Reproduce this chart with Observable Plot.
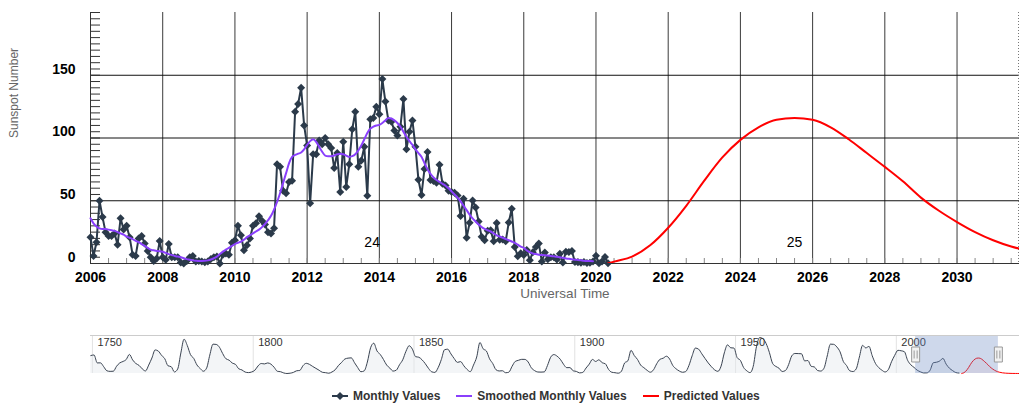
<!DOCTYPE html>
<html>
<head>
<meta charset="utf-8">
<script src="https://cdn.jsdelivr.net/npm/d3@7"></script>
<script src="https://cdn.jsdelivr.net/npm/@observablehq/plot@0.6"></script>
<style>
  html, body { margin: 0; padding: 0; background: #fff; }
  #chart { position: relative; width: 1019px; height: 406px; overflow: hidden; font-family: "Liberation Sans", Arial, sans-serif; }
  #main { position: absolute; left: 0; top: 0; }
  #nav { position: absolute; left: 0; top: 326px; }
  #legend { position: absolute; left: 332px; top: 388px; display: flex; align-items: center; height: 16px; white-space: nowrap; }
  .item { display: flex; align-items: center; margin-right: 16px; font-size: 12px; font-weight: bold; color: #333; }
  .item svg { margin-right: 5px; display: block; }
</style>
</head>
<body>
<div id="chart"><div id="main"></div><div id="nav"></div><div id="legend"></div></div>
<script>
// ---------------- DATA ----------------
// Monthly sunspot numbers, one value per month starting January 2006 (ends May 2020)
const monthlyStartYear = 2006;
const monthlyValues = [
  21, 6, 17, 50, 37, 25, 22, 22, 24, 15, 36, 27,            // 2006
  30, 21, 7, 6, 20, 22, 16, 10, 5, 2, 4, 18,                // 2007
  5, 3, 15.5, 5, 5, 5, 0.8, 0, 2, 5, 6, 1.5,                // 2008
  2, 1.5, 1, 1.5, 3.5, 5, 5.5, 0, 7, 8, 7, 16.5,            // 2009
  18.5, 30, 22.5, 10.6, 14.6, 20, 30, 32, 37.7, 34, 31, 25, // 2010
  24, 28, 79, 77, 58, 56, 65, 66, 121, 127, 140, 110,       // 2011
  94, 48, 87, 87, 98, 95, 100, 95, 92, 76, 88, 57,          // 2012
  97, 61, 79, 107, 121, 77, 82, 93, 54, 115, 116, 125,      // 2013
  119, 147, 129, 114, 113, 106, 102, 109, 131, 91, 105, 114,// 2014
  93, 66.7, 54.5, 75.3, 88.8, 66.5, 65.8, 64.4, 78.6, 63.6, 62.2, 58, // 2015
  57, 56.4, 54.1, 37.9, 51.5, 20.5, 32.4, 50.2, 44.6, 33.4, 21.4, 18.5, // 2016
  26.1, 26.4, 17.7, 32.3, 18.9, 19.2, 17.8, 32.6, 43.6, 13.2, 5.7, 8.2, // 2017
  6.8, 10.7, 2.5, 8.9, 13.1, 15.9, 1.6, 8.7, 3.3, 4.9, 4.9, 3.1,        // 2018
  7.7, 0.8, 9.4, 9.1, 9.9, 1.2, 0.9, 0.5, 1.1, 0.4, 0.5, 1.5,           // 2019
  6.2, 0.2, 1.5, 5.2, 0.2                                               // 2020
];

// Smoothed monthly values, one per month starting January 2006 (ends December 2019)
const smoothedStartYear = 2006;
const smoothedValues = [
  36, 32, 29.5, 28, 27.5, 27.5, 27, 26.5, 26, 25, 24, 23,          // 2006
  21.5, 20.5, 19.5, 18, 17, 15.5, 14, 12.5, 11, 10.5, 10, 9.8,     // 2007
  9.3, 8.5, 7.5, 6.8, 6, 5.5, 5, 4.2, 3.5, 3, 2.5, 2.2,            // 2008
  2, 2, 2.1, 2.5, 3.2, 4.2, 5.5, 7.5, 9.5, 11, 12.5, 14,           // 2009
  15.5, 16.5, 17.5, 19, 21, 22.5, 24, 25.5, 27, 29, 31.5, 34.5,    // 2010
  38, 43, 49, 56, 64, 72, 80, 85, 86.5, 87.5, 88.5, 91,            // 2011
  94.5, 97.5, 99, 97, 93, 89, 86, 85.5, 85.5, 86, 87, 87.5,        // 2012
  87, 86, 85, 85.5, 87, 90, 94, 99, 104, 107.5, 109, 110,          // 2013
  110.5, 112, 114, 116, 115.5, 114, 112, 109, 105, 101, 97.5, 94.5,// 2014
  91, 88, 85, 80, 75, 71.5, 68.5, 66.5, 65, 63.5, 62, 60,          // 2015
  57.5, 55, 52.5, 49.5, 46, 42.5, 39, 36, 33.5, 31, 29, 27.5,      // 2016
  26.5, 25.5, 24, 22.5, 21.5, 20.5, 19.5, 18.5, 17.5, 16.5, 15, 13.5, // 2017
  12.5, 10.5, 9, 8, 7.5, 7, 6.8, 6.6, 6.3, 6, 5.7, 5.4,            // 2018
  5, 4.5, 4, 3.7, 3.3, 3, 2.8, 2.5, 2.2, 2, 1.9, 1.8               // 2019
];

// Predicted values (cycle 25)
const predictedYears  = [2020.33, 2020.5, 2021, 2021.5, 2022, 2022.5, 2023, 2023.5, 2024, 2024.5, 2025, 2025.5, 2026, 2026.5, 2027, 2027.5, 2028, 2028.5, 2029, 2029.5, 2030, 2030.5, 2031, 2031.5, 2032, 2033, 2034, 2035, 2036, 2037, 2038.5];
const predictedValues = [0, 1.5, 5.5, 14.5, 28.5, 46, 66, 84.5, 98.5, 108.5, 114.5, 116, 114.5, 108.5, 99, 88, 77, 65.5, 52.5, 42, 33, 25, 18.5, 13.5, 10, 5, 2.5, 1.2, 0.6, 0.3, 0.1];

// Cycle number annotations
const cycleLabels = ["24", "25"];
const cycleYears = [2013.8, 2025.5];
const cycleLabelValues = [17, 17];

// Navigator: yearly mean sunspot numbers, 1749 .. 2019
const annualStartYear = 1749;
const annualValues = [
  134.7, 139.0, 79.5, 79.7, 51.2, 20.3, 16.0, 17.0, 54.0, 79.3, 90.0, 104.8, 143.2, 102.0, 75.2, 60.7, 34.8, 19.0, 63.0, 116.3, 176.8,
  168.0, 136.0, 110.8, 58.0, 51.0, 11.7, 33.0, 154.2, 257.3, 209.8, 141.3, 113.5, 64.2, 38.0, 17.0, 40.2, 138.2, 220.0, 218.2, 196.8,
  149.8, 111.0, 100.0, 78.2, 68.3, 35.5, 26.7, 10.7, 6.8, 11.3, 24.2, 56.7, 75.0, 71.8, 79.2, 70.3, 46.8, 16.8, 13.5, 4.2,
  0.0, 2.3, 8.3, 20.3, 23.2, 59.0, 76.3, 68.3, 52.9, 38.5, 24.2, 9.2, 6.3, 2.2, 11.4, 28.2, 59.9, 83.0, 108.5, 115.2,
  117.4, 80.8, 44.3, 13.4, 19.5, 85.8, 192.7, 227.3, 168.7, 143.0, 105.5, 63.3, 40.3, 18.1, 25.1, 65.8, 102.7, 166.3, 208.3, 182.5,
  126.3, 122.0, 102.7, 74.1, 39.0, 12.7, 8.2, 43.4, 104.4, 178.3, 182.2, 146.6, 112.1, 83.5, 89.2, 57.8, 30.7, 13.9, 62.8, 123.6,
  232.0, 185.3, 169.2, 110.1, 74.5, 28.3, 18.9, 20.7, 5.7, 10.0, 53.7, 90.5, 99.0, 106.1, 105.8, 86.3, 42.4, 21.8, 11.2, 10.4,
  11.8, 59.5, 121.7, 142.0, 130.0, 106.6, 69.4, 43.8, 44.4, 20.2, 15.7, 4.6, 8.5, 40.8, 70.1, 105.5, 90.1, 102.8, 80.9, 73.2,
  30.9, 9.5, 6.0, 2.4, 16.1, 79.0, 95.0, 173.6, 134.6, 105.7, 62.7, 43.5, 23.7, 9.7, 27.9, 74.0, 106.5, 114.7, 129.7, 108.2,
  59.4, 35.1, 18.6, 9.2, 14.6, 60.2, 132.8, 190.6, 182.6, 148.0, 113.0, 79.2, 50.8, 27.1, 16.1, 55.3, 154.3, 214.7, 193.0, 190.7,
  118.9, 98.3, 45.0, 20.1, 6.6, 54.2, 200.7, 269.3, 261.7, 225.1, 159.0, 76.4, 53.4, 39.9, 15.0, 22.0, 66.8, 132.9, 150.2, 149.4,
  148.0, 94.4, 97.6, 54.1, 49.2, 22.5, 18.4, 39.3, 131.0, 220.1, 218.9, 198.9, 162.4, 91.0, 60.5, 20.6, 14.8, 33.9, 123.0, 211.1,
  191.8, 203.3, 133.0, 76.1, 44.9, 25.1, 11.6, 28.9, 88.3, 136.3, 173.9, 170.4, 163.6, 99.3, 65.3, 45.8, 24.7, 12.6, 4.2, 4.8,
  24.9, 80.8, 84.5, 94.0, 113.3, 69.8, 39.8, 21.7, 7.0, 3.6
];

// Axis ticks / labels
const xTicks = [2006, 2008, 2010, 2012, 2014, 2016, 2018, 2020, 2022, 2024, 2026, 2028, 2030];
const yTicks = [0, 50, 100, 150];
const navTicks = [1750, 1800, 1850, 1900, 1950, 2000];
const xTitle = "Universal Time";
const yTitle = "Sunspot Number";
const viewRange = [2006, 2031.73];
const legendLabels = ["Monthly Values", "Smoothed Monthly Values", "Predicted Values"];

// ---------------- STYLE ----------------
const FONT = '"Liberation Sans", Arial, Helvetica, sans-serif';
const MONTHLY_COLOR = "#2b3a4a";
const SMOOTH_COLOR = "#8a3ffc";
const PRED_COLOR = "#ff0000";
const legendColors = [MONTHLY_COLOR, SMOOTH_COLOR, PRED_COLOR];

// ---------------- BUILD ----------------
const monthly = monthlyValues.map((v, i) => ({t: monthlyStartYear + i / 12, v}));
const smoothed = smoothedValues.map((v, i) => ({t: smoothedStartYear + i / 12, v}));
const predicted = predictedYears.map((t, i) => ({t, v: predictedValues[i]}));
const cycles = cycleLabels.map((label, i) => ({label, t: cycleYears[i], v: cycleLabelValues[i]}));
const annual = annualValues.map((v, i) => ({t: annualStartYear + i + 0.5, v}));

const xMinor = d3.range(2006, 2032, 0.5);
const yMinor = d3.range(0, 201, 5);

const diamond = {
  draw(ctx, size) {
    const h = Math.sqrt(size / Math.PI);
    ctx.moveTo(0, -h); ctx.lineTo(h, 0); ctx.lineTo(0, h); ctx.lineTo(-h, 0); ctx.closePath();
  }
};
const handle = {
  draw(ctx) {
    ctx.rect(-4, -7.5, 8, 15);
    ctx.moveTo(-1.5, -4); ctx.lineTo(-1.5, 4);
    ctx.moveTo(1.5, -4); ctx.lineTo(1.5, 4);
  }
};

const main = Plot.plot({
  width: 1019, height: 305,
  marginLeft: 90, marginRight: 0, marginTop: 12, marginBottom: 42,
  style: {fontFamily: FONT, background: "transparent", overflow: "visible"},
  x: {domain: viewRange, axis: null},
  y: {domain: [0, 200], axis: null},
  marks: [
    Plot.gridX(xTicks, {stroke: "#3a3a3a", strokeOpacity: 1}),
    Plot.gridY(yTicks.filter(d => d > 0), {stroke: "#111", strokeOpacity: 1}),
    Plot.axisY(yMinor, {tickSize: 10, dx: 10, tickFormat: () => "", stroke: "#333", label: null}),
    Plot.axisX(xMinor, {tickSize: 5, dy: -5, tickFormat: () => "", stroke: "#888", label: null}),
    Plot.ruleX([viewRange[0]], {stroke: "#333"}),
    Plot.ruleX([viewRange[1]], {stroke: "#777", strokeDasharray: "1,2", dx: -1}),
    Plot.ruleY([0], {stroke: "#333"}),
    Plot.axisX(xTicks, {tickSize: 0, tickPadding: 9, tickFormat: d => String(d), fontSize: 14, fontWeight: "bold", fill: "#000", label: null}),
    Plot.axisY(yTicks, {tickSize: 0, tickPadding: 15, dy: -6, fontSize: 14, fontWeight: "bold", fill: "#000", label: null}),
    Plot.text([yTitle], {text: d => d, frameAnchor: "left", dx: -76, rotate: -90, fontSize: 12, fill: "#666"}),
    Plot.text([xTitle], {text: d => d, frameAnchor: "bottom", dy: 34, dx: 10, fontSize: 13.5, fill: "#666"}),
    Plot.text(cycles, {x: "t", y: "v", text: "label", fontSize: 14, fill: "#000"}),
    Plot.line(monthly, {x: "t", y: "v", stroke: MONTHLY_COLOR, strokeWidth: 2}),
    Plot.dot(monthly, {x: "t", y: "v", symbol: diamond, r: 4, fill: MONTHLY_COLOR, stroke: "none"}),
    Plot.line(smoothed, {x: "t", y: "v", stroke: SMOOTH_COLOR, strokeWidth: 2, curve: "monotone-x"}),
    Plot.line(predicted, {x: "t", y: "v", stroke: PRED_COLOR, strokeWidth: 2, curve: "monotone-x", clip: true})
  ]
});
document.getElementById("main").appendChild(main);

const nav = Plot.plot({
  width: 1019, height: 50,
  marginLeft: 90, marginRight: 0, marginTop: 9, marginBottom: 3,
  style: {fontFamily: FONT, background: "transparent", overflow: "visible"},
  x: {domain: [1749.4, 2038.3], axis: null},
  y: {domain: [0, 285], axis: null},
  marks: [
    Plot.ruleX(navTicks, {stroke: "#e2e2e2"}),
    Plot.areaY(annual, {x: "t", y: "v", fill: "#e4e8ee", fillOpacity: 0.45, curve: "monotone-x"}),
    Plot.lineY(annual, {x: "t", y: "v", stroke: "#3b4452", strokeWidth: 1, curve: "monotone-x"}),
    Plot.areaY(predicted, {x: "t", y: "v", fill: PRED_COLOR, fillOpacity: 0.05, curve: "monotone-x"}),
    Plot.lineY(predicted, {x: "t", y: "v", stroke: PRED_COLOR, strokeWidth: 1, curve: "monotone-x"}),
    Plot.text(navTicks, {x: d => d, text: d => String(d), frameAnchor: "top", lineAnchor: "top", textAnchor: "start", dx: 5, dy: 3, fontSize: 11, fill: "#333"}),
    Plot.rect([viewRange], {x1: d => d[0], x2: d => d[1], fill: "#6685c2", fillOpacity: 0.32}),
    Plot.frame({anchor: "top", stroke: "#ccc"}),
    Plot.dot(viewRange, {x: d => d, symbol: handle, r: 5, fill: "#f2f2f2", stroke: "#999", strokeWidth: 1})
  ]
});
document.getElementById("nav").appendChild(nav);

// Legend
const legend = document.getElementById("legend");
legendLabels.forEach((label, i) => {
  const item = document.createElement("div");
  item.className = "item";
  const color = legendColors[i];
  const marker = i === 0 ? `<path d="M8,4 L12,8 L8,12 L4,8 Z" fill="${color}"/>` : "";
  item.innerHTML = `<svg width="16" height="16"><line x1="0" y1="8" x2="16" y2="8" stroke="${color}" stroke-width="2"/>${marker}</svg><span>${label}</span>`;
  legend.appendChild(item);
});
</script>
</body>
</html>
